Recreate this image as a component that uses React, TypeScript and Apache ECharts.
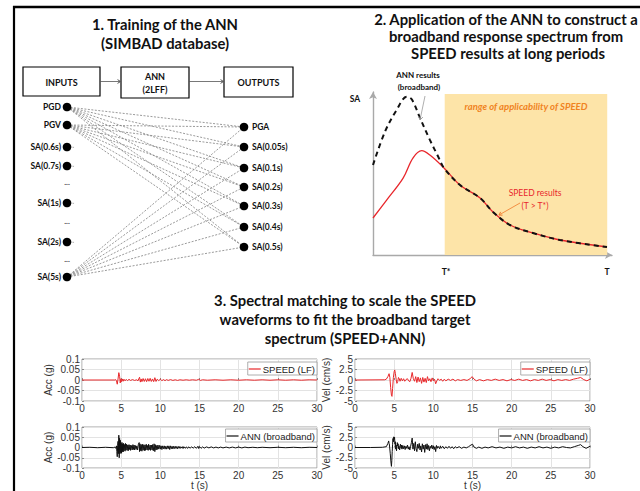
import React, { useEffect, useRef } from 'react';
import * as echarts from 'echarts';

// ---------- Section 1: network diagram labels ----------
const inputNodes = ['PGD', 'PGV', 'SA(0.6s)', 'SA(0.7s)', 'SA(1s)', 'SA(2s)', 'SA(5s)'];
const connectedInputs = ['PGD', 'PGV', 'SA(5s)'];
const outputNodes = ['PGA', 'SA(0.05s)', 'SA(0.1s)', 'SA(0.2s)', 'SA(0.3s)', 'SA(0.4s)', 'SA(0.5s)'];
const boxLabels = ['INPUTS', 'ANN\n(2LFF)', 'OUTPUTS'];

// ---------- Section 2: schematic spectra (T in 0..100, SA in 0..100) ----------
const specTailT = [29.7, 36.4, 44.8, 50.2, 57.3, 66.9, 78.2, 97.9];
const specTailSA = [53.4, 42.9, 35.0, 26.4, 18.4, 13.5, 9.2, 4.9];
const speedHeadT = [0, 5.7, 12.6, 16.7, 20.4, 23.8];
const speedHeadSA = [22.7, 33.7, 47.2, 59.5, 64.0, 61.3];
const annHeadT = [0, 5, 9.9, 14.1, 16.2, 19.7, 23.8, 27.3];
const annHeadSA = [55.2, 75.6, 89.0, 97.1, 95.5, 84.0, 70.6, 60.3];
const tStar = 30;
const tEnd = 98;

// ---------- Section 3: waveforms [t (s), value] ----------
const timeTicks = [0, 5, 10, 15, 20, 25, 30];

const accSpeed = [
  [0, 0], [4.2, 0], [4.3, 0.002], [4.4, -0.004], [4.5, -0.02], [4.6, 0.005], [4.7, 0.035], [4.8, 0.018],
  [4.88, -0.014], [4.97, 0.006], [5.05, -0.008], [5.15, 0.005], [5.25, -0.006], [5.35, 0.004], [5.5, -0.004],
  [5.65, 0.003], [5.8, -0.003], [6.0, 0.003], [6.2, -0.002], [6.45, 0.002], [6.7, -0.002], [7.0, 0.001],
  [7.15, -0.004], [7.25, 0.006], [7.35, 0.013], [7.45, -0.01], [7.55, 0.005], [7.65, -0.008], [7.8, 0.007],
  [7.95, -0.007], [8.1, 0.006], [8.25, -0.008], [8.4, 0.007], [8.55, -0.006], [8.7, 0.008], [8.85, -0.007],
  [9.0, 0.005], [9.15, -0.008], [9.3, 0.011], [9.45, -0.007], [9.6, 0.004], [9.8, -0.003], [10.0, 0.004],
  [10.2, -0.003], [10.4, 0.002], [10.6, -0.003], [10.8, 0.002], [11.0, -0.002], [11.3, 0.002], [11.6, -0.002],
  [11.9, 0.001], [12.2, -0.002], [12.5, 0.001], [12.9, -0.001], [13.3, 0.001], [13.7, -0.001], [14.1, 0.001],
  [14.6, -0.001], [14.9, 0.003], [15.1, -0.002], [15.4, 0.001], [16, -0.001], [17, 0.001], [18, -0.001],
  [19, 0.001], [20, -0.001], [21, 0.001], [22, -0.001], [23, 0.001], [24, -0.001], [25, 0.001], [26, -0.001],
  [27, 0.001], [28, -0.001], [29, 0.001], [30, 0],
];

const accAnn = [
  [0, 0], [1, 0.001], [2, -0.001], [3, 0.001], [4, -0.001], [4.2, 0.002], [4.3, -0.004], [4.4, 0.008],
  [4.45, -0.02], [4.5, -0.045], [4.55, 0.01], [4.6, 0.03], [4.65, -0.03], [4.7, 0.06], [4.75, -0.05],
  [4.8, 0.045], [4.85, -0.03], [4.9, 0.035], [4.95, -0.025], [5.0, 0.02], [5.05, -0.028], [5.1, 0.025],
  [5.15, -0.02], [5.2, 0.018], [5.25, -0.022], [5.3, 0.02], [5.35, -0.015], [5.4, 0.015], [5.5, -0.018],
  [5.55, 0.02], [5.6, -0.012], [5.7, 0.016], [5.75, -0.014], [5.85, 0.012], [5.9, -0.016], [6.0, 0.014],
  [6.05, -0.01], [6.15, 0.012], [6.2, -0.014], [6.3, 0.01], [6.4, -0.012], [6.5, 0.014], [6.55, -0.01],
  [6.65, 0.012], [6.7, -0.012], [6.8, 0.01], [6.9, -0.01], [7.0, 0.008], [7.1, -0.012], [7.2, 0.016],
  [7.3, 0.024], [7.35, -0.02], [7.4, 0.018], [7.5, -0.016], [7.55, 0.014], [7.65, -0.018], [7.7, 0.016],
  [7.8, -0.012], [7.9, 0.014], [7.95, -0.016], [8.05, 0.012], [8.1, -0.014], [8.2, 0.016], [8.3, -0.012],
  [8.35, 0.01], [8.45, -0.014], [8.5, 0.016], [8.6, -0.01], [8.7, 0.012], [8.75, -0.014], [8.85, 0.012],
  [8.95, -0.012], [9.0, 0.014], [9.1, -0.016], [9.2, 0.018], [9.3, -0.02], [9.35, 0.014], [9.45, -0.012],
  [9.55, 0.01], [9.6, -0.01], [9.7, 0.012], [9.8, -0.008], [9.9, 0.01], [10.0, -0.008], [10.1, 0.008],
  [10.2, -0.01], [10.3, 0.008], [10.4, -0.006], [10.5, 0.008], [10.6, -0.008], [10.7, 0.006], [10.8, -0.008],
  [10.9, 0.008], [11.0, -0.006], [11.1, 0.008], [11.2, -0.01], [11.3, 0.008], [11.4, -0.006], [11.5, 0.006],
  [11.6, -0.007], [11.7, 0.006], [11.8, -0.005], [11.9, 0.006], [12.0, -0.005], [12.1, 0.005], [12.2, -0.006],
  [12.3, 0.005], [12.4, -0.004], [12.5, 0.005], [12.6, -0.004], [12.8, 0.004], [12.9, -0.005], [13.0, 0.004],
  [13.2, -0.004], [13.3, 0.003], [13.5, -0.004], [13.6, 0.003], [13.8, -0.003], [14.0, 0.003], [14.2, -0.003],
  [14.4, 0.004], [14.6, -0.004], [14.8, 0.006], [14.9, -0.005], [15.0, 0.004], [15.2, -0.004], [15.4, 0.003],
  [15.6, -0.003], [15.9, 0.003], [16.2, -0.002], [16.5, 0.003], [16.8, -0.002], [17.1, 0.002], [17.4, -0.002],
  [17.7, 0.002], [18.0, -0.002], [18.4, 0.002], [18.8, -0.002], [19.2, 0.002], [19.6, -0.002], [20.0, 0.002],
  [20.4, -0.002], [20.8, 0.002], [21.2, -0.001], [21.8, 0.001], [22.4, -0.001], [23, 0.001], [24, -0.001],
  [25, 0.001], [26, -0.001], [27, 0.001], [28, -0.001], [29, 0.001], [30, 0],
];

const velSpeed = [
  [0, 0], [3.8, 0.05], [4.0, 0.2], [4.2, 0.8], [4.35, 1.5], [4.45, 0.6], [4.55, -1.8], [4.65, -3.6],
  [4.72, -3.9], [4.8, -2.0], [4.9, 0.6], [5.0, 2.0], [5.07, 2.4], [5.15, 1.6], [5.25, 0.2], [5.35, -0.8],
  [5.45, -0.4], [5.55, 0.6], [5.65, 0.3], [5.75, -0.3], [5.9, 0.4], [6.05, -0.2], [6.2, 0.3], [6.35, -0.3],
  [6.5, 0.1], [6.7, 0.3], [6.85, -0.2], [7.0, -0.4], [7.15, 0.4], [7.3, 1.8], [7.45, 0.3], [7.6, -0.3],
  [7.75, 0.8], [7.9, -0.6], [8.05, 0.7], [8.2, -0.4], [8.35, 0.5], [8.5, -0.8], [8.65, 0.6], [8.8, -0.5],
  [8.95, 0.4], [9.1, -0.6], [9.25, 0.8], [9.4, -0.2], [9.55, 0.3], [9.7, -0.4], [9.85, 0.5], [10.0, -0.2],
  [10.15, 0.2], [10.3, -0.9], [10.45, -0.2], [10.6, 0.3], [10.8, -0.1], [11.0, 0.2], [11.2, -0.3], [11.4, 0.2],
  [11.6, -0.2], [11.9, 0.2], [12.2, -0.1], [12.5, 0.2], [12.8, -0.2], [13.1, 0.1], [13.5, -0.1], [13.9, 0.1],
  [14.3, -0.1], [14.7, 0.3], [14.95, 0.8], [15.2, 0.2], [15.5, -0.2], [15.9, 0.1], [16.4, -0.2], [16.9, 0.1],
  [17.4, -0.1], [17.9, 0.2], [18.4, -0.1], [18.9, 0.1], [19.4, -0.2], [19.9, 0.1], [20.4, -0.1], [20.9, 0.2],
  [21.4, -0.1], [21.9, 0.1], [22.4, -0.2], [22.9, 0.1], [23.4, -0.1], [23.9, 0.2], [24.4, -0.1], [24.9, 0.1],
  [25.4, -0.2], [25.9, 0.1], [26.4, -0.1], [26.9, 0.1], [27.4, -0.1], [27.9, 0.2], [28.4, 0.4], [28.8, 0.6],
  [29.2, 0.1], [29.6, -0.2], [30, 0.2],
];

const velAnn = [
  [0, 0], [2, 0], [3.5, 0.05], [4.0, 0.2], [4.1, 0.6], [4.2, 1.0], [4.3, 1.6], [4.35, 1.0], [4.4, 0.6],
  [4.5, -1.5], [4.6, -3.8], [4.65, -4.6], [4.7, -3.2], [4.75, -1.0], [4.8, 0.8], [4.85, 2.2], [4.9, 1.4],
  [4.95, 2.6], [5.0, 2.0], [5.05, 2.5], [5.1, 0.8], [5.15, 1.4], [5.2, -0.4], [5.25, 0.6], [5.3, -0.8],
  [5.35, 0.2], [5.4, 1.2], [5.45, 0.4], [5.5, 0.9], [5.55, -0.3], [5.6, 0.4], [5.7, -0.6], [5.75, 0.2],
  [5.8, 0.8], [5.9, -0.2], [5.95, 0.6], [6.0, -0.4], [6.1, 0.5], [6.2, -0.3], [6.3, 0.4], [6.4, -0.5],
  [6.5, 0.3], [6.6, -0.2], [6.7, 0.6], [6.8, -0.4], [6.9, 0.2], [7.0, -0.6], [7.1, 0.3], [7.2, 1.2],
  [7.3, 2.3], [7.35, 0.8], [7.4, -0.4], [7.5, 1.0], [7.6, -0.8], [7.7, 1.4], [7.8, -0.3], [7.9, -1.0],
  [8.0, 0.8], [8.1, -0.2], [8.2, 1.0], [8.3, -0.6], [8.4, 0.4], [8.5, -1.1], [8.6, 0.9], [8.7, -0.4],
  [8.8, 0.6], [8.9, -1.2], [9.0, 0.7], [9.1, -0.4], [9.2, 0.9], [9.3, -0.5], [9.4, 0.5], [9.5, -0.8],
  [9.6, 0.3], [9.7, -0.2], [9.8, 0.6], [9.9, -0.3], [10.0, 0.4], [10.1, -0.5], [10.2, 0.2], [10.3, -1.0],
  [10.4, 0.5], [10.5, -0.2], [10.6, 0.3], [10.8, -0.3], [10.9, 0.4], [11.0, -0.2], [11.2, 0.3], [11.4, -0.3],
  [11.6, 0.2], [11.8, -0.2], [12.0, 0.3], [12.2, -0.2], [12.4, 0.2], [12.6, -0.3], [12.8, 0.2], [13.0, -0.1],
  [13.3, 0.2], [13.6, -0.2], [13.9, 0.1], [14.2, -0.1], [14.5, 0.2], [14.8, 0.6], [15.0, 0.8], [15.2, 0.1],
  [15.5, -0.2], [15.8, 0.1], [16.2, -0.2], [16.6, 0.1], [17.0, -0.1], [17.5, 0.2], [18.0, -0.1], [18.5, 0.1],
  [19.0, -0.2], [19.5, 0.1], [20.0, -0.1], [20.5, 0.2], [21.0, -0.1], [21.5, 0.1], [22.0, -0.2], [22.5, 0.1],
  [23.0, -0.1], [23.5, 0.2], [24.0, -0.1], [24.5, 0.1], [25.0, -0.2], [25.5, 0.1], [26.0, -0.1], [26.5, 0.2],
  [27.0, 0.0], [27.5, -0.1], [28.0, 0.2], [28.5, 0.5], [28.8, 0.7], [29.1, 0.2], [29.5, -0.2], [30, 0.3],
];

const accTicks = [-0.1, -0.05, 0, 0.05, 0.1];
const velTicks = [-5, -2.5, 0, 2.5, 5];

// ---------- helpers ----------
const HEAD = 'Lato, "Open Sans", sans-serif';
const PLOT_FONT = '"Liberation Sans", Arial, sans-serif';

const txt = (text: string, x: number, y: number, o: any = {}) => ({
  type: 'text',
  x,
  y,
  silent: true,
  z: 50,
  style: {
    text,
    fill: o.fill ?? '#111',
    fontSize: o.size ?? 9,
    fontWeight: o.weight ?? 'bold',
    fontStyle: o.italic ? 'italic' : 'normal',
    fontFamily: o.family ?? HEAD,
    textAlign: o.align ?? 'center',
    textVerticalAlign: 'middle',
    lineHeight: o.lh ?? 11,
  },
});

const seg = (x1: number, y1: number, x2: number, y2: number, o: any = {}) => ({
  type: 'line',
  silent: true,
  z: o.z ?? 10,
  shape: { x1, y1, x2, y2 },
  style: { stroke: o.color ?? '#000', lineWidth: o.width ?? 1, lineDash: o.dash ?? null },
});

const arrowHead = (x: number, y: number, ang: number, color: string, size = 4) => {
  const a1 = ang + Math.PI * 0.82;
  const a2 = ang - Math.PI * 0.82;
  return {
    type: 'polyline',
    silent: true,
    z: 11,
    shape: {
      points: [
        [x + size * Math.cos(a1), y + size * Math.sin(a1)],
        [x, y],
        [x + size * Math.cos(a2), y + size * Math.sin(a2)],
      ],
    },
    style: { stroke: color, lineWidth: 1, fill: null },
  };
};

const arrow = (x1: number, y1: number, x2: number, y2: number, color: string, width = 0.8, size = 4) => [
  seg(x1, y1, x2, y2, { color, width }),
  arrowHead(x2, y2, Math.atan2(y2 - y1, x2 - x1), color, size),
];

function buildOption() {
  // ---- layout (pixels) ----
  const inX = 67;
  const outX = 244;
  const inY = [107, 125, 147, 166, 203, 242, 277];
  const ellipsisY = [184, 223, 261];
  const outY = [127, 147, 168, 187, 206, 227, 247];
  const boxes = [
    { x: 23, y: 67, w: 77, h: 29 },
    { x: 121, y: 67, w: 68, h: 31 },
    { x: 224, y: 67, w: 69, h: 30 },
  ];
  const TITLE = 14.8;

  const g: any[] = [];
  // frame
  g.push(seg(13, 7, 640, 7, { width: 2.4 }));
  g.push(seg(14, 6, 14, 491, { width: 2.2 }));

  // Section titles
  g.push(txt('1. Training of the ANN', 165, 24, { size: TITLE }));
  g.push(txt('(SIMBAD database)', 165, 43, { size: TITLE }));
  g.push(txt('2. Application of the ANN to construct a', 506, 19, { size: TITLE }));
  g.push(txt('broadband response spectrum from', 506, 36, { size: TITLE }));
  g.push(txt('SPEED results at long periods', 508, 53, { size: TITLE }));
  g.push(txt('3. Spectral matching to scale the SPEED', 345, 300, { size: TITLE }));
  g.push(txt('waveforms to fit the broadband target', 345, 319, { size: TITLE }));
  g.push(txt('spectrum (SPEED+ANN)', 345, 338, { size: TITLE }));

  // boxes
  boxes.forEach((b, i) => {
    g.push({
      type: 'rect',
      silent: true,
      z: 10,
      shape: { x: b.x, y: b.y, width: b.w, height: b.h },
      style: { stroke: '#000', lineWidth: 1.2, fill: '#fff' },
    });
    g.push(txt(boxLabels[i], b.x + b.w / 2, b.y + b.h / 2 + 0.5, { size: 9, lh: 13 }));
  });
  g.push(...arrow(100, 81.5, 120.5, 81.5, '#555', 0.8, 3.5));
  g.push(...arrow(189, 81.5, 223.5, 81.5, '#555', 0.8, 3.5));

  // dashed connections
  inputNodes.forEach((name, i) => {
    if (connectedInputs.includes(name)) {
      outY.forEach((oy) => {
        g.push(seg(inX, inY[i], outX, oy, { color: '#808080', width: 0.8, dash: [2, 1.5], z: 5 }));
      });
    } else {
      g.push(seg(inX + 3, inY[i], inX + 8, inY[i] + 0.5, { color: '#999', width: 0.8, dash: [1.5, 1], z: 5 }));
    }
  });

  // input nodes
  inputNodes.forEach((name, i) => {
    g.push({ type: 'circle', silent: true, z: 12, shape: { cx: inX, cy: inY[i], r: 4.3 }, style: { fill: '#000' } });
    g.push(txt(name, inX - 6, inY[i], { size: 8.5, align: 'right' }));
  });
  ellipsisY.forEach((y) => g.push(txt('...', inX, y - 2, { size: 8, fill: '#444' })));
  // output nodes
  outputNodes.forEach((name, i) => {
    g.push({ type: 'circle', silent: true, z: 12, shape: { cx: outX, cy: outY[i], r: 4.3 }, style: { fill: '#000' } });
    g.push(txt(name, outX + 8, outY[i], { size: 8.5, align: 'left' }));
  });

  // Section 2 annotations
  g.push(txt('SA', 355, 99, { size: 8.5 }));
  g.push(txt('T*', 446, 272, { size: 8.5 }));
  g.push(txt('T', 607, 272, { size: 8.5 }));
  g.push(txt('ANN results', 418, 75, { size: 8 }));
  g.push(txt('(broadband)', 419, 87, { size: 8 }));
  g.push(...arrow(425, 96, 420, 120, '#9a9a9a', 0.8, 4));
  g.push(txt('SPEED results', 535, 193, { size: 8.5, weight: 'normal', fill: '#e8262b' }));
  g.push(txt('(T > T*)', 535, 206, { size: 8.5, weight: 'normal', fill: '#e8262b' }));
  g.push(...arrow(520, 203, 499, 215, '#f07a2a', 0.8, 3.5));

  const zip = (t: number[], v: number[]) => t.map((x, i) => [x, v[i]]);
  const speedSpec = zip(speedHeadT.concat(specTailT), speedHeadSA.concat(specTailSA));
  const annSpec = zip(annHeadT.concat(specTailT), annHeadSA.concat(specTailSA));

  const grayAxis = { color: '#a9a9a9', width: 1.4 };
  const specAxis = (min: number, max: number, idx: number) => ({
    type: 'value',
    gridIndex: idx,
    min,
    max,
    axisLine: { show: true, lineStyle: grayAxis, symbol: ['none', 'arrow'], symbolSize: [6, 7] },
    axisTick: { show: false },
    axisLabel: { show: false },
    splitLine: { show: false },
  });

  const plotGrid = (left: number, top: number, height: number) => ({
    left,
    top,
    width: 235,
    height,
    show: true,
    borderColor: '#a0a0a0',
    borderWidth: 1,
    backgroundColor: '#fff',
    containLabel: false,
    outerBoundsMode: 'none',
  });

  const labelBase = {
    fontSize: 10,
    color: '#333',
    margin: 2,
    fontFamily: PLOT_FONT,
    showMinLabel: true,
    showMaxLabel: true,
    hideOverlap: false,
  };

  const timeAxis = (idx: number, named: boolean) => ({
    type: 'value',
    gridIndex: idx,
    min: timeTicks[0],
    max: timeTicks[timeTicks.length - 1],
    interval: timeTicks[1] - timeTicks[0],
    axisLine: { show: false },
    axisTick: { show: true, inside: true, length: 2, lineStyle: { color: '#888' } },
    axisLabel: { ...labelBase },
    splitLine: { show: true, lineStyle: { color: '#e3e3e3', width: 1 } },
    name: named ? 't (s)' : '',
    nameLocation: 'middle',
    nameGap: 11,
    nameTextStyle: { fontSize: 10, color: '#333', fontFamily: PLOT_FONT, lineHeight: 10 },
  });

  const valAxis = (idx: number, ticks: number[], name: string, gap: number) => ({
    type: 'value',
    gridIndex: idx,
    min: ticks[0],
    max: ticks[ticks.length - 1],
    interval: ticks[1] - ticks[0],
    axisLine: { show: false },
    axisTick: { show: true, inside: true, length: 2, lineStyle: { color: '#888' } },
    axisLabel: {
      ...labelBase,
      formatter: (v: number) => String(Math.round(v * 1000) / 1000),
    },
    splitLine: { show: true, lineStyle: { color: '#e3e3e3', width: 1 } },
    name,
    nameLocation: 'middle',
    nameRotate: 90,
    nameGap: gap,
    nameTextStyle: { fontSize: 10, color: '#333', fontFamily: PLOT_FONT },
  });

  const legendBox = (name: string, right: number, top: number) => ({
    data: [name],
    right,
    top,
    orient: 'horizontal',
    icon: 'rect',
    itemWidth: 12,
    itemHeight: 1.2,
    itemGap: 2,
    padding: [2, 2, 1, 1],
    borderColor: '#9a9a9a',
    borderWidth: 0.8,
    borderRadius: 0,
    backgroundColor: '#fff',
    selectedMode: false,
    textStyle: { fontSize: 9.5, color: '#222', fontFamily: PLOT_FONT, padding: [0, 0, 0, -3] },
  });

  const wave = (name: string, data: number[][], idx: number, color: string) => ({
    name,
    type: 'line',
    xAxisIndex: idx,
    yAxisIndex: idx,
    data,
    symbol: 'none',
    showSymbol: false,
    lineStyle: { color, width: 1 },
    itemStyle: { color },
    z: 3,
  });

  return {
    animation: false,
    backgroundColor: '#fff',
    grid: [
      { left: 373, top: 92, width: 239, height: 163, containLabel: false, outerBoundsMode: 'none' },
      plotGrid(82, 359, 42),
      plotGrid(82, 427, 41),
      plotGrid(355, 359, 42),
      plotGrid(355, 427, 41),
    ],
    xAxis: [
      specAxis(0, 100, 0),
      timeAxis(1, false),
      timeAxis(2, true),
      timeAxis(3, false),
      timeAxis(4, true),
    ],
    yAxis: [
      specAxis(0, 100, 0),
      valAxis(1, accTicks, 'Acc (g)', 25),
      valAxis(2, accTicks, 'Acc (g)', 25),
      valAxis(3, velTicks, 'Vel (cm/s)', 19),
      valAxis(4, velTicks, 'Vel (cm/s)', 19),
    ],
    legend: [
      legendBox('SPEED (LF)', 640 - 317, 362),
      legendBox('ANN (broadband)', 640 - 317, 429),
      legendBox('SPEED (LF)', 640 - 590, 362),
      legendBox('ANN (broadband)', 640 - 590, 429),
    ],
    series: [
      {
        name: 'range',
        type: 'line',
        xAxisIndex: 0,
        yAxisIndex: 0,
        data: [],
        z: 1,
        silent: true,
        markArea: {
          silent: true,
          itemStyle: { color: '#fde4a8' },
          label: {
            show: true,
            position: 'insideTop',
            distance: 8,
            color: '#f0831f',
            fontStyle: 'italic',
            fontWeight: 'bold',
            fontSize: 9.5,
            fontFamily: HEAD,
          },
          data: [[
            { name: 'range of applicability of SPEED', xAxis: tStar, yAxis: 0 },
            { xAxis: tEnd, yAxis: 98.8 },
          ]],
        },
      },
      {
        name: 'SPEED spectrum',
        type: 'line',
        xAxisIndex: 0,
        yAxisIndex: 0,
        data: speedSpec,
        smooth: 0.35,
        symbol: 'none',
        lineStyle: { color: '#e8262b', width: 1.3 },
        z: 3,
      },
      {
        name: 'ANN spectrum',
        type: 'line',
        xAxisIndex: 0,
        yAxisIndex: 0,
        data: annSpec,
        smooth: 0.35,
        symbol: 'none',
        lineStyle: { color: '#111', width: 2, type: [5, 4] },
        z: 4,
      },
      wave('SPEED (LF)', accSpeed, 1, '#e8282b'),
      wave('ANN (broadband)', accAnn, 2, '#111111'),
      wave('SPEED (LF)', velSpeed, 3, '#e8282b'),
      wave('ANN (broadband)', velAnn, 4, '#111111'),
    ],
    graphic: { elements: g },
  };
}

export default function App() {
  const ref = useRef<HTMLDivElement>(null);
  useEffect(() => {
    if (!ref.current) return;
    const chart = echarts.init(ref.current, undefined, { renderer: 'svg' });
    chart.setOption(buildOption() as any);
    return () => chart.dispose();
  }, []);
  return (
    <div
      ref={ref}
      style={{ position: 'fixed', left: 0, top: 0, width: 640, height: 491, background: '#fff' }}
    />
  );
}
